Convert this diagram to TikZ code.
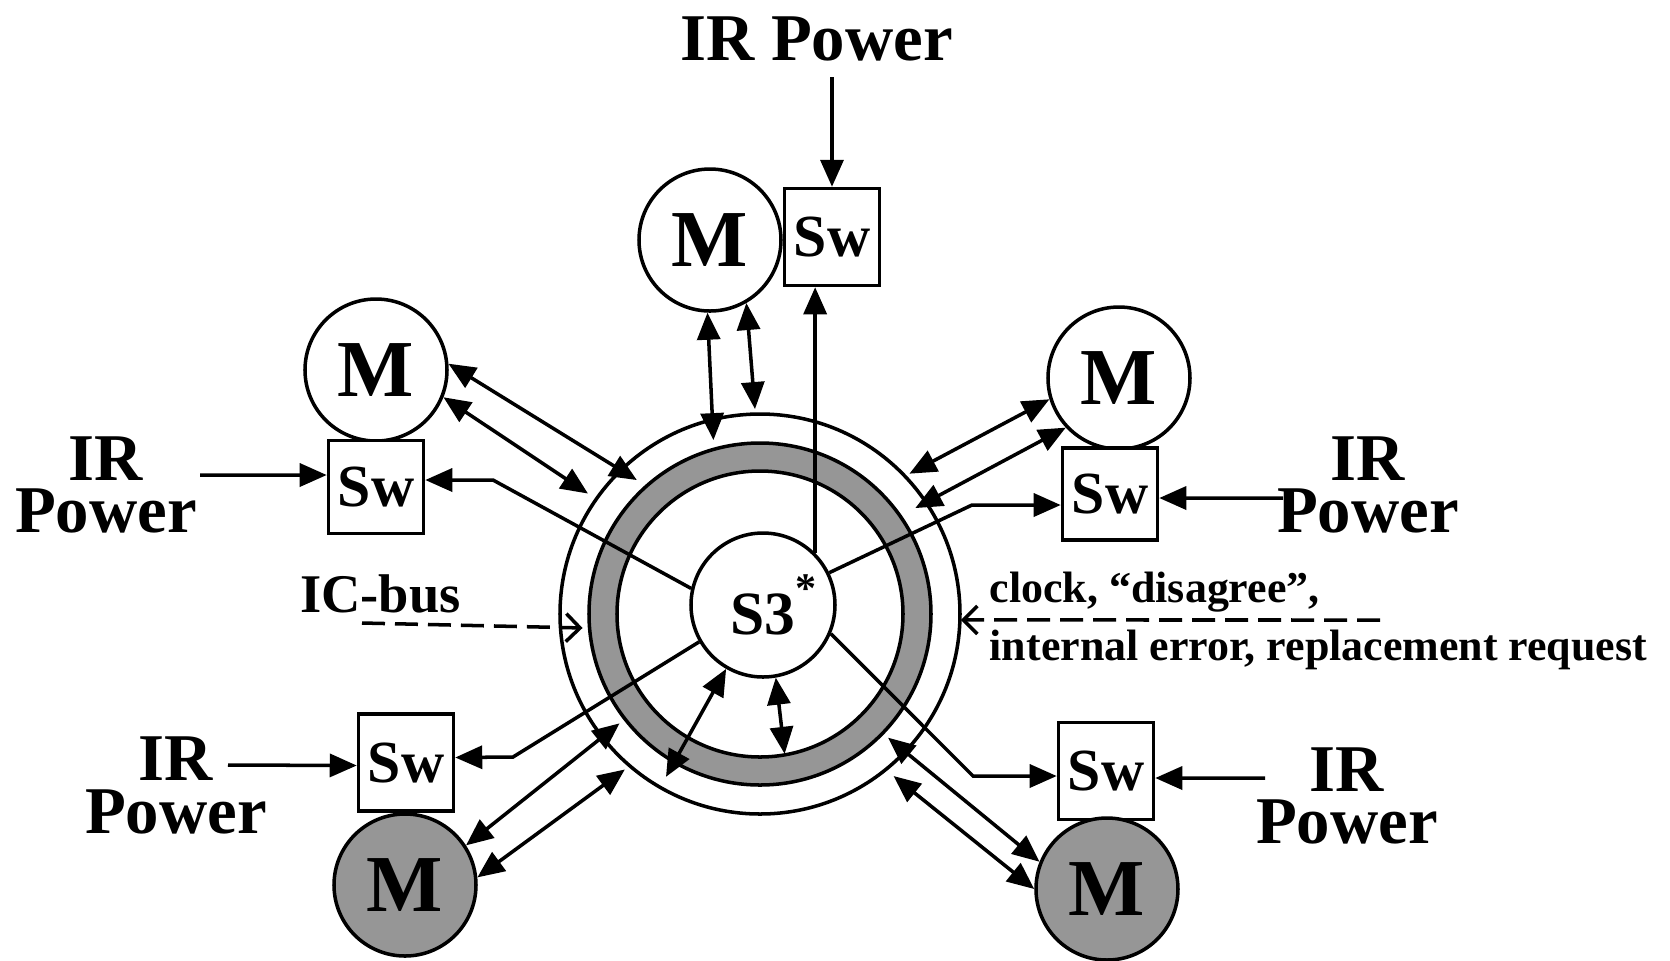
\documentclass[tikz,border=0pt]{standalone}
\usepackage{fontspec}
\setmainfont{Liberation Serif}
\usetikzlibrary{arrows.meta}
\definecolor{ringgray}{RGB}{150,150,150}
\begin{document}
\begin{tikzpicture}[x=1cm,y=1cm,line width=1pt,
  tip/.style={-{Triangle[length=2.7mm,width=2.3mm]}},
  dtip/.style={{Triangle[length=2.7mm,width=2.3mm]}-{Triangle[length=2.7mm,width=2.3mm]}},
  mnode/.style={circle,draw,line width=1pt,minimum size=1.42cm,inner sep=0pt,fill=white,font=\bfseries\fontsize{23}{23}\selectfont},
  swnode/.style={rectangle,draw,line width=1pt,minimum width=0.95cm,minimum height=0.95cm,inner sep=0pt,fill=white,font=\bfseries\fontsize{17}{17}\selectfont},
  irlabel/.style={align=center,inner sep=0pt,font=\bfseries\fontsize{19}{15}\selectfont},
  smalltext/.style={inner sep=0pt,font=\bfseries\fontsize{12.5}{14}\selectfont},
  dashline/.style={dash pattern=on 2.3mm off 1.0mm,line width=1pt,-{Straight Barb[length=1.4mm,width=2.8mm]}}
]
\useasboundingbox (0,0) rectangle (16.70,-9.60);

% rings
\coordinate (c) at (7.60,-6.14);
\fill[ringgray,even odd rule] (c) circle (1.71) (c) circle (1.43);
\draw (c) circle (1.71);
\draw (c) circle (1.43);
\draw (c) circle (2.00);

% ring points
\path (c) ++(105:1.80) coordinate (rt1);
\path (c) ++(91.4:2.05) coordinate (rt2);
\path (c) ++(132.6:1.82) coordinate (rul1);
\path (c) ++(145:2.10) coordinate (rul2);
\path (c) ++(43.2:2.05) coordinate (rur1);
\path (c) ++(34.3:1.88) coordinate (rur2);
\path (c) ++(217.9:1.78) coordinate (rll1);
\path (c) ++(229:2.06) coordinate (rll2);
\path (c) ++(-44:1.78) coordinate (rlr1);
\path (c) ++(-50.5:2.10) coordinate (rlr2);
\path (c) ++(240:1.88) coordinate (rin1);
\path (c) ++(-80:1.42) coordinate (rin2);
\path (c) ++(184.5:1.78) coordinate (ric);
\path (c) ++(-1.7:2.01) coordinate (rclk);

% nodes
\node[circle,draw,line width=1pt,minimum size=1.44cm,inner sep=0pt,fill=white,
  font=\bfseries\fontsize{17.5}{17.5}\selectfont] (S3) at (7.63,-6.05)
  {S3\rlap{\raisebox{1.15ex}{\fontsize{12}{12}\selectfont *}}};

\node[mnode] (Mt) at (7.10,-2.40) {M};
\node[swnode,minimum height=0.97cm] (Swt) at (8.32,-2.37) {Sw};
\node[mnode] (Mul) at (3.76,-3.70) {M};
\node[swnode,minimum height=0.93cm] (Swul) at (3.76,-4.87) {Sw};
\node[mnode] (Mur) at (11.19,-3.78) {M};
\node[swnode,minimum height=0.92cm] (Swur) at (11.10,-4.94) {Sw};
\node[swnode,minimum height=0.97cm] (Swll) at (4.06,-7.625) {Sw};
\node[mnode,fill=ringgray] (Mll) at (4.05,-8.85) {M};
\node[swnode,minimum height=0.97cm] (Swlr) at (11.06,-7.71) {Sw};
\node[mnode,fill=ringgray] (Mlr) at (11.07,-8.89) {M};

% labels
\node[inner sep=0pt,anchor=base,font=\bfseries\fontsize{19}{19}\selectfont] (irt) at (8.165,-0.60) {IR Power};
\node[irlabel] (irl) at (1.06,-4.85) {IR\\Power};
\node[irlabel] (irr) at (13.68,-4.85) {IR\\Power};
\node[irlabel] (irll) at (1.76,-7.855) {IR\\Power};
\node[irlabel] (irlr) at (13.47,-7.96) {IR\\Power};
\node[inner sep=0pt,anchor=base,font=\bfseries\fontsize{15.5}{16}\selectfont] (icb) at (3.805,-6.12) {IC-bus};
\node[smalltext,anchor=base west] (clk1) at (9.88,-6.02) {clock, “disagree”,};
\node[smalltext,anchor=base west] (clk2) at (9.88,-6.60) {internal error, replacement request};

% free ends
\coordinate (irt-o) at (8.32,-0.77);
\coordinate (irl-o) at (2.00,-4.75);
\coordinate (irr-o) at (12.83,-4.98);
\coordinate (irll-o) at (2.28,-7.65);
\coordinate (irlr-o) at (12.65,-7.78);
\coordinate (icb-o) at (3.62,-6.23);
\coordinate (clk-o) at (13.80,-6.20);

% IR power arrows
\draw[tip] (irt-o) -- (Swt.north);
\draw[tip] (irl-o) -- ([yshift=1.2mm]Swul.west);
\draw[tip] (irr-o) -- ([yshift=-0.4mm]Swur.east);
\draw[tip] (irll-o) -- ([yshift=-0.3mm]Swll.west);
\draw[tip] (irlr-o) -- ([yshift=-0.7mm]Swlr.east);

% S3 to switches
\draw[tip] (S3.45) -- (S3.45 |- Swt.south);
\draw[tip] (S3.167) -- (4.93,-4.80) -- ([yshift=0.7mm]Swul.east);
\draw[tip] (S3.26) -- (9.72,-5.05) -- ([yshift=-1.1mm]Swur.west);
\draw[tip] (S3.210) -- (5.13,-7.57) -- ([yshift=0.5mm]Swll.east);
\draw[tip] (S3.-23) -- (9.73,-7.76) -- ([yshift=-0.5mm]Swlr.west);

% modules to rings
\draw[dtip] (Mt.-92) -- (rt1);
\draw[dtip] (Mt.-60) -- (rt2);
\draw[dtip] (Mul.5) -- (rul1);
\draw[dtip] (Mul.-22) -- (rul2);
\draw[dtip] (Mur.197) -- (rur1);
\draw[dtip] (Mur.223) -- (rur2);
\draw[dtip] (Mll.33) -- (rll1);
\draw[dtip] (Mll.6) -- (rll2);
\draw[dtip] (Mlr.158) -- (rlr1);
\draw[dtip] (Mlr.180) -- (rlr2);

% S3 to ring
\draw[dtip] (S3.240) -- (rin1);
\draw[dtip] (S3.-80) -- (rin2);

% dashed signals
\draw[dashline] (icb-o) -- (ric);
\draw[dashline] (clk-o) -- (rclk);
\end{tikzpicture}
\end{document}
